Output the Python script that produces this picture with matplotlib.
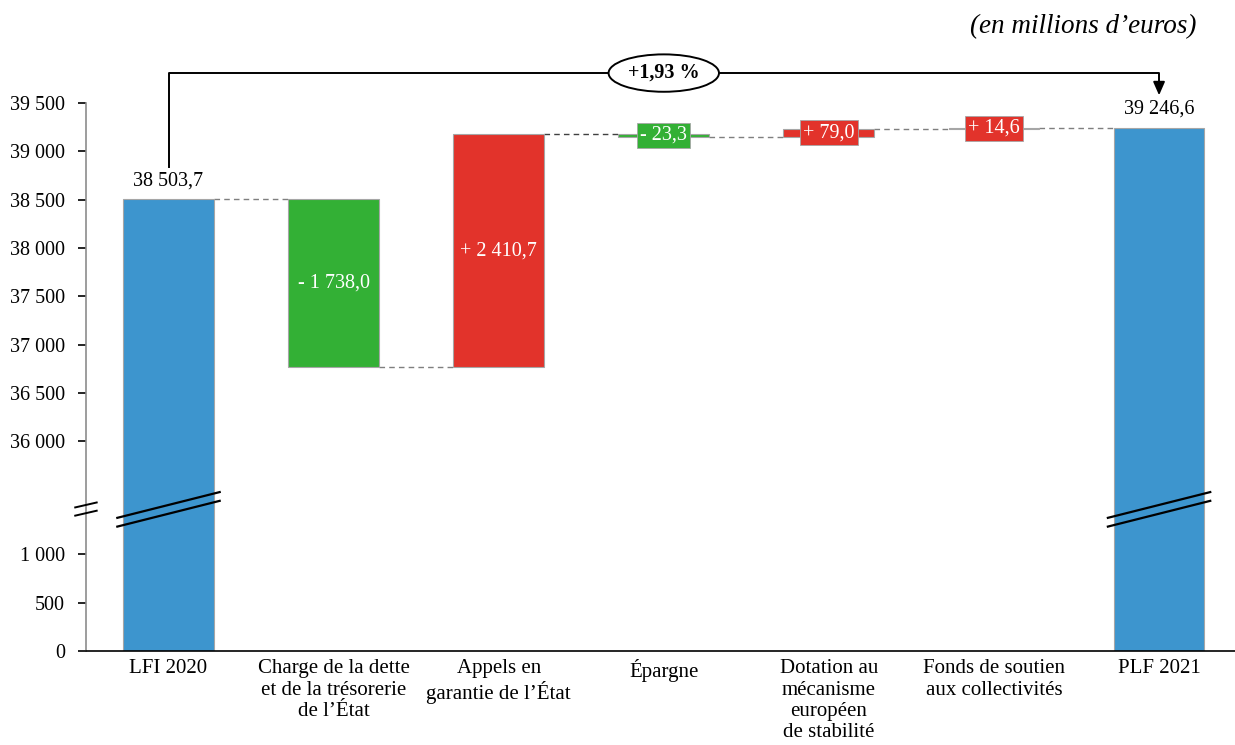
import numpy as np
import matplotlib.pyplot as plt
from matplotlib.transforms import blended_transform_factory

plt.rcParams['font.family'] = ['Liberation Serif', 'DejaVu Serif']

# %% données (en millions d'euros)
categories = [
    "LFI 2020",
    "Charge de la dette\net de la trésorerie\nde l’État",
    "Appels en\ngarantie de l’État",
    "Épargne",
    "Dotation au\nmécanisme\neuropéen\nde stabilité",
    "Fonds de soutien\naux collectivités",
    "PLF 2021",
]
total_start = 38503.7
deltas = [-1738.0, 2410.7, -23.3, 79.0, 14.6]
total_end = 39246.6
variation_label = "+1,93 %"

yticks = [0, 500, 1000, 36000, 36500, 37000, 37500, 38000, 38500, 39000, 39500]

BLUE = "#3d95ce"
GREEN = "#33b035"
RED = "#e2332b"
EDGE = "#a6a6a6"
FS = 14.5


def fmt(v, signed=False):
    s = f"{abs(v):,.1f}".replace(",", " ").replace(".", ",")
    if signed:
        return ("+ " if v >= 0 else "- ") + s
    return s


# %% échelle coupée : 0-1400 puis 35 240 et au-delà
xp = [-1e6, 1400, 35240, 1e6]
fp = [-1e6, 1400, 1410, 1e6 - 33830]


def fwd(v):
    return np.interp(v, xp, fp)


def inv(d):
    return np.interp(d, fp, xp)


fig = plt.figure(figsize=(12.35, 7.45), dpi=100)
ax = fig.add_axes([0.0696, 0.1262, 0.9304, 0.7355])
ax.set_yscale('function', functions=(fwd, inv))
ax.set_ylim(0, 39500)
ax.set_xlim(-0.5, 6.46)

x = np.arange(len(categories))
w = 0.55

# barres de total
for xi, val in [(0, total_start), (6, total_end)]:
    ax.bar(xi, val, width=w, color=BLUE, edgecolor=EDGE, linewidth=0.8, zorder=2)
    ax.text(xi, val + 90, fmt(val), ha='center', va='bottom', fontsize=FS)

# barres de variation
level = total_start
prev_right = 0 + w / 2
for i, d in enumerate(deltas, start=1):
    lo, hi = sorted([level, level + d])
    col = RED if d > 0 else GREEN
    ax.bar(i, hi - lo, bottom=lo, width=w, color=col, edgecolor=EDGE,
           linewidth=0.8, zorder=2)
    # trait de liaison
    dash_col = '#404040' if i == 3 else '#7f7f7f'
    ax.plot([prev_right, i - w / 2], [level, level], ls=(0, (4, 3)),
            color=dash_col, lw=1.0, zorder=1)
    mid = (lo + hi) / 2
    if hi - lo > 500:
        ax.text(i, mid, fmt(d, True), ha='center', va='center', color='white',
                fontsize=FS, zorder=3)
    else:
        ax.text(i, mid, fmt(d, True), ha='center', va='center', color='white',
                fontsize=FS, zorder=3,
                bbox=dict(boxstyle='square,pad=0.15', fc=col, ec=EDGE, lw=0.6))
    level += d
    prev_right = i + w / 2
ax.plot([prev_right, 6 - w / 2], [total_end, total_end], ls=(0, (4, 3)),
        color='#7f7f7f', lw=1.0, zorder=1)

# axes
ax.set_xticks(x)
ax.set_xticklabels(categories, fontsize=15, linespacing=1.17)
ax.tick_params(axis='x', length=0, pad=6)
ax.set_yticks(yticks)
ax.set_yticklabels([f"{t:,}".replace(",", " ") for t in yticks], fontsize=FS)
ax.yaxis.set_minor_locator(plt.NullLocator())
ax.tick_params(axis='y', length=6, width=1.2, color='black', pad=9)
for s in ['top', 'right']:
    ax.spines[s].set_visible(False)
ax.spines['left'].set_color('#8c8c8c')
ax.spines['left'].set_linewidth(1.2)
ax.spines['bottom'].set_color('black')
ax.spines['bottom'].set_linewidth(1.2)

# marques de coupure
tb = blended_transform_factory(ax.transData, ax.transAxes)
for xi in [0, 6]:
    for off in [0.0, -0.016]:
        ax.plot([xi - 0.31, xi + 0.31], [0.243 + off, 0.290 + off], color='black',
                lw=1.6, transform=tb, clip_on=False, zorder=4)
for off in [0.0, -0.015]:
    ax.plot([-0.565, -0.435], [0.262 + off, 0.271 + off], color='black', lw=1.4,
            transform=tb, clip_on=False, zorder=4)

# variation totale
top_line = 39810
ax.plot([0, 0, 6, 6], [38840, top_line, top_line, 39690], color='black', lw=1.4,
        clip_on=False, zorder=3)
ax.annotate('', xy=(6, 39580), xytext=(6, 39700),
            arrowprops=dict(arrowstyle='-|>,head_width=0.35,head_length=0.8',
                            color='black', lw=1.4, shrinkA=0, shrinkB=0),
            annotation_clip=False)
ax.text(3, top_line, variation_label, ha='center', va='center', fontsize=FS,
        fontweight='bold', zorder=4,
        bbox=dict(boxstyle='ellipse,pad=0.16', fc='white', ec='black', lw=1.4))

fig.text(0.969, 0.964, "(en millions d’euros)", ha='right', va='center',
         fontsize=19.5, style='italic')

fig.savefig("out.png", dpi=100)
